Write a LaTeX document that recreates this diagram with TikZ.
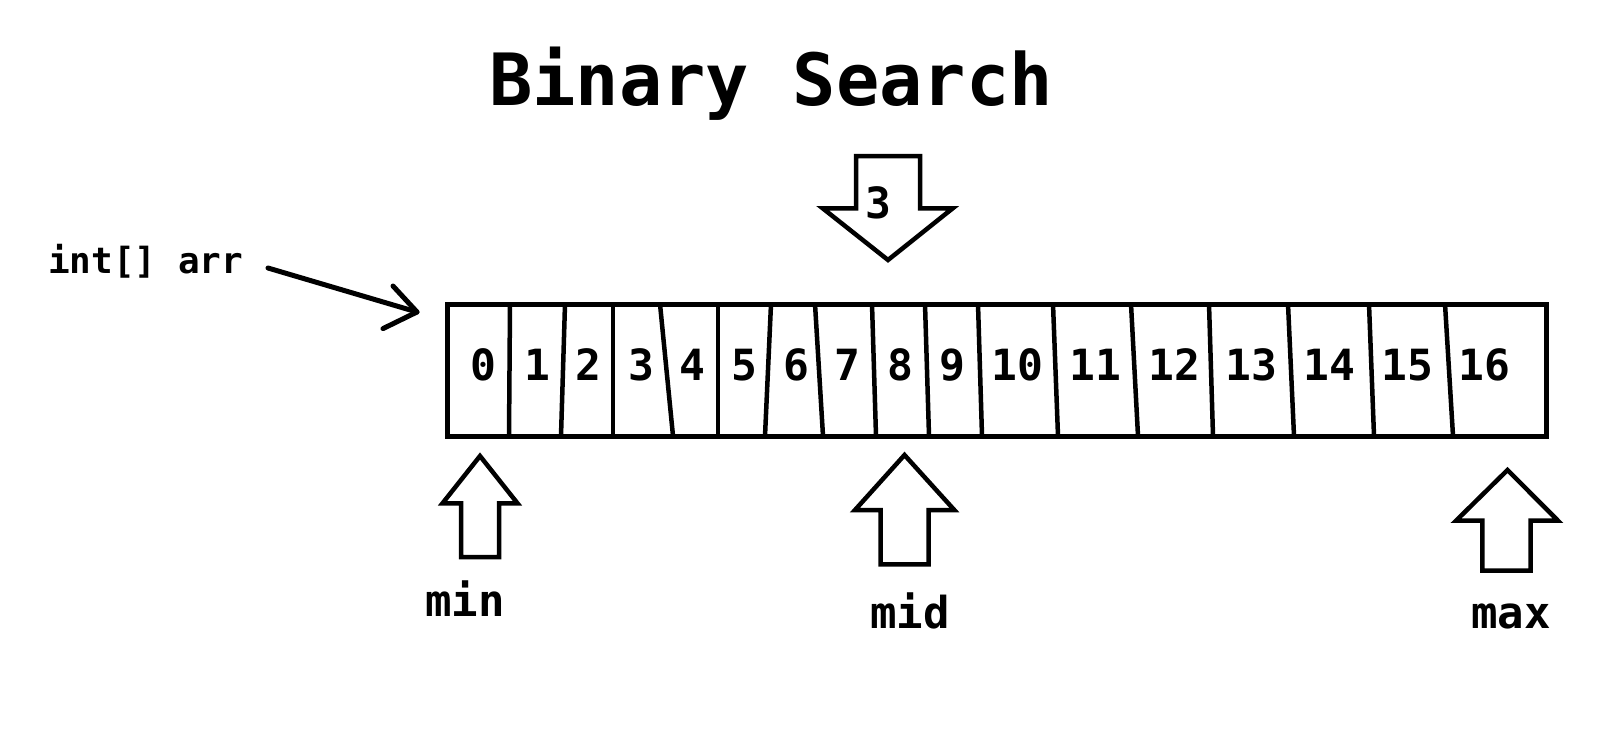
\documentclass[tikz,border=0pt]{standalone}
\usepackage{fontspec}
\setmonofont{DejaVu Sans Mono}
\usetikzlibrary{calc}
\begin{document}
\begin{tikzpicture}[x=1pt,y=-1pt,
  lbl/.style={inner sep=0pt,anchor=base,font=\ttfamily\bfseries},
  dig/.style={lbl,font=\ttfamily\bfseries\fontsize{43pt}{48pt}\selectfont},
  word/.style={lbl,font=\ttfamily\bfseries\fontsize{44pt}{50pt}\selectfont},
  div/.style={line width=4.5pt},
  blk/.style={line width=4.5pt,line join=miter},
  ptr/.style={line width=5pt,line cap=round,line join=round}]
\useasboundingbox[fill=white] (0,0) rectangle (1616,752);
% title
\node[lbl,font=\ttfamily\bfseries\fontsize{72pt}{80pt}\selectfont] (title) at (771,105) {Binary Search};
% array box
\node[draw,line width=5pt,minimum width=1099pt,minimum height=132pt,inner sep=0pt,outer sep=0pt,anchor=north west] (arr) at (447,304) {};
\foreach \t/\b in {510/509,565/561,613/613,660/673,718/718,771/765,815/823,872/876,925/929,978/982,1053/1058,1131/1138,1209/1213,1288/1294,1369/1374,1445/1453}
  \draw[div] (\t,304) -- (\b,436);
\foreach \x [count=\i from 0] in {483,537,588,641,692.5,744,796,847,900,952,1017,1095.5,1174,1251,1329.5,1407,1484}
  \node[dig] (d\i) at (\x,380) {\i};
% pointer label and arrow
\node[lbl,anchor=base west,font=\ttfamily\bfseries\fontsize{36pt}{40pt}\selectfont] (arrlbl) at (48,273) {int[] arr};
\coordinate (ptrs) at (268,268);
\coordinate (ptre) at (417,312);
\draw[ptr] (ptrs) -- (ptre);
\draw[ptr] ($(ptre)+(-24,-26)$) -- (ptre) -- ($(ptre)+(-34,16.6)$);
% down arrow with 3
\draw[blk] (856,156) -- (920,156) -- (920,208.3) -- (952.7,208.3) -- (888,260) -- (822.7,208.3) -- (856,208.3) -- cycle;
\node[dig] (three) at (878,218.5) {3};
% up arrows
\draw[blk] (480,456) -- (517.5,503.3) -- (499,503.3) -- (499,557) -- (461,557) -- (461,503.3) -- (442.5,503.3) -- cycle;
\draw[blk] (904.5,455) -- (954.3,510) -- (928.7,510) -- (928.7,564.3) -- (880.7,564.3) -- (880.7,510) -- (855,510) -- cycle;
\draw[blk] (1507.5,470) -- (1558,520.7) -- (1530.7,520.7) -- (1530.7,570.7) -- (1482.3,570.7) -- (1482.3,520.7) -- (1456,520.7) -- cycle;
\node[word] (min) at (465,616) {min};
\node[word] (mid) at (910,628) {mid};
\node[word] (max) at (1511,628) {max};
\end{tikzpicture}
\end{document}
